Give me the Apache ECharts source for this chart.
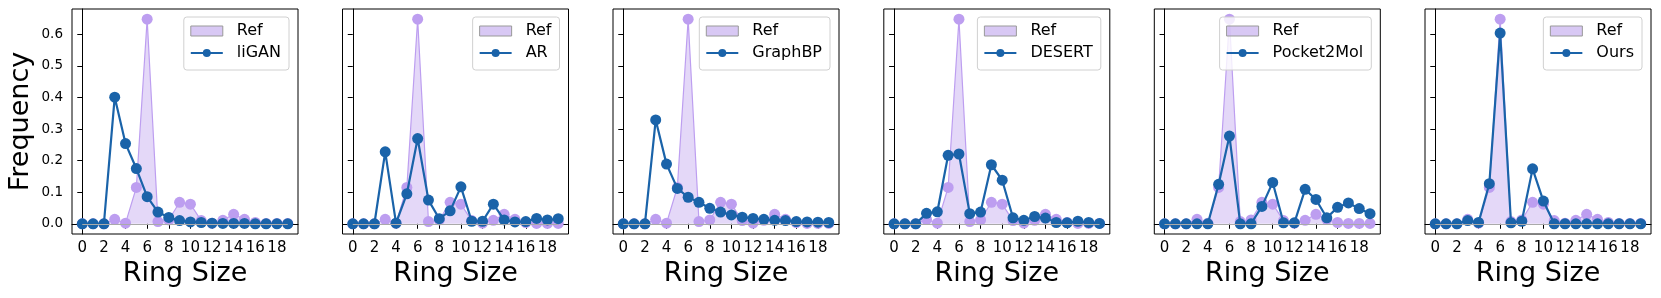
<!DOCTYPE html>
<html>
<head>
<meta charset="utf-8">
<script src="https://cdn.jsdelivr.net/npm/echarts@6/dist/echarts.min.js"></script>
<style>
html,body{margin:0;padding:0;background:#fff;}
#chart{width:1661px;height:298px;}
</style>
</head>
<body>
<div id="chart"></div>
<script>
// ---- data ----
const ringSizes = [0,1,2,3,4,5,6,7,8,9,10,11,12,13,14,15,16,17,18,19];
const refFreq =        [0,0,0,0.014,0.002,0.115,0.648,0.007,0.012,0.068,0.062,0.010,0.002,0.011,0.030,0.014,0.004,0.001,0.001,0.001];
const liganFreq =      [0,0,0,0.401,0.254,0.175,0.086,0.037,0.020,0.010,0.006,0.004,0.002,0.001,0.001,0.001,0,0,0,0];
const arFreq =         [0,0,0,0.228,0.002,0.095,0.270,0.075,0.016,0.041,0.117,0.008,0.008,0.062,0.012,0.006,0.007,0.017,0.012,0.016];
const graphbpFreq =    [0,0,0,0.329,0.189,0.112,0.084,0.068,0.049,0.037,0.028,0.021,0.017,0.014,0.011,0.010,0.007,0.006,0.005,0.004];
const desertFreq =     [0,0,0,0.033,0.038,0.217,0.221,0.032,0.037,0.187,0.138,0.019,0.011,0.023,0.018,0.004,0.003,0.008,0.004,0.001];
const pocket2molFreq = [0,0,0,0,0,0.125,0.278,0,0,0.055,0.131,0.003,0.003,0.109,0.077,0.019,0.052,0.066,0.048,0.032];
const oursFreq =       [0,0,0,0.010,0.004,0.127,0.604,0.003,0.008,0.174,0.072,0,0,0,0,0,0,0,0,0];
const modelNames = ['liGAN','AR','GraphBP','DESERT','Pocket2Mol','Ours'];
const modelFreqs = [liganFreq, arFreq, graphbpFreq, desertFreq, pocket2molFreq, oursFreq];
const xTicks = [0,2,4,6,8,10,12,14,16,18];
const yTicks = [0,0.1,0.2,0.3,0.4,0.5,0.6];
const xLabel = 'Ring Size';
const yLabel = 'Frequency';
const refName = 'Ref';

// ---- style ----
const FONT = 'DejaVu Sans';
const BLUE = '#1a63a9';
const PURPLE = '#bd9ef0';
const FILL = 'rgba(178,145,234,0.5)';
const W = 1661;
const gridLefts = [72, 342.5, 613, 883.8, 1154.3, 1425];
const gridTop = 9, gridW = 226, gridH = 225;

const grids = [], xAxes = [], yAxes = [], series = [], legends = [];
const pts = arr => ringSizes.map((x, i) => [x, arr[i]]);

modelNames.forEach((name, k) => {
  grids.push({left: gridLefts[k], top: gridTop, width: gridW, height: gridH,
    show: true, borderColor: '#000', borderWidth: 1, backgroundColor: 'transparent', containLabel: false});
  xAxes.push({type: 'value', gridIndex: k, min: -0.95, max: 19.95,
    axisLine: {show: true, lineStyle: {color: '#000', width: 1}},
    axisTick: {show: true, length: 5, lineStyle: {color: '#000', width: 1}, customValues: xTicks},
    axisLabel: {show: true, customValues: xTicks, margin: 7, color: '#000', fontFamily: FONT, fontSize: 15},
    splitLine: {show: false},
    name: xLabel, nameLocation: 'middle', nameGap: 23,
    nameTextStyle: {fontFamily: FONT, fontSize: 27, color: '#000', verticalAlign: 'top'}});
  yAxes.push({type: 'value', gridIndex: k, min: -0.0324, max: 0.6804,
    axisLine: {show: true, lineStyle: {color: '#000', width: 1}},
    axisTick: {show: true, length: 5, lineStyle: {color: '#000', width: 1}, customValues: yTicks},
    axisLabel: {show: k === 0, customValues: yTicks, margin: 9, color: '#000', fontFamily: FONT, fontSize: 13.5,
      formatter: v => v.toFixed(1)},
    splitLine: {show: false},
    name: k === 0 ? yLabel : '', nameLocation: 'middle', nameGap: 38,
    nameTextStyle: {fontFamily: FONT, fontSize: 27, color: '#000'}});
  series.push({type: 'line', name: refName, xAxisIndex: k, yAxisIndex: k, data: pts(refFreq),
    symbol: 'circle', symbolSize: 11, showSymbol: true,
    itemStyle: {color: PURPLE}, lineStyle: {color: PURPLE, width: 1.2},
    areaStyle: {color: FILL, origin: 0}, z: 2, animation: false,
    markLine: {silent: true, symbol: ['none','none'], label: {show: false},
      lineStyle: {color: '#aaaaaa', width: 1, type: 'solid'},
      data: [[{coord: [ringSizes[0], 0]}, {coord: [ringSizes[ringSizes.length-1], 0]}]]}});
  series.push({type: 'line', name: name, xAxisIndex: k, yAxisIndex: k, data: pts(modelFreqs[k]),
    symbol: 'circle', symbolSize: 11, showSymbol: true,
    itemStyle: {color: BLUE}, lineStyle: {color: BLUE, width: 2.2}, z: 3, animation: false});
  legends.push({orient: 'vertical', right: W - (gridLefts[k] + gridW - 9), top: 17,
    backgroundColor: 'rgba(255,255,255,0.8)', borderColor: '#d0d0d0', borderWidth: 1, borderRadius: 3,
    padding: [6, 8, 9, 6], itemWidth: 32, itemHeight: 10, itemGap: 6,
    textStyle: {fontFamily: FONT, fontSize: 16, color: '#000', lineHeight: 16, padding: [0,0,0,9]},
    selectedMode: false,
    data: [
      {name: refName, icon: 'rect', itemStyle: {color: 'rgba(178,145,234,0.5)', borderColor: '#999', borderWidth: 1}},
      {name: name}
    ]});
});

const chart = echarts.init(document.getElementById('chart'), null, {renderer: 'canvas'});
chart.setOption({
  animation: false,
  backgroundColor: '#fff',
  textStyle: {fontFamily: FONT},
  grid: grids, xAxis: xAxes, yAxis: yAxes, series: series, legend: legends
});
</script>
</body>
</html>
